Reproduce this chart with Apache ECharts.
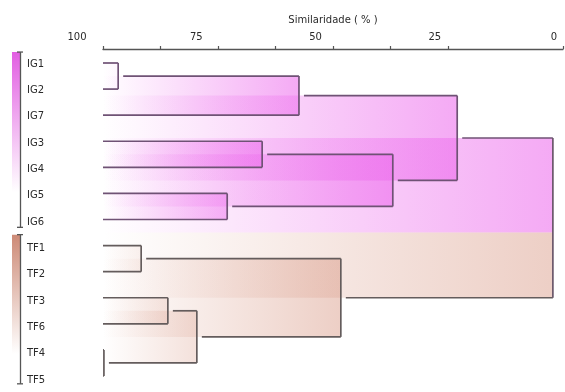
<!DOCTYPE html>
<html><head><meta charset="utf-8">
<script src="https://cdn.jsdelivr.net/npm/echarts@6/dist/echarts.min.js"></script>
<style>html,body{margin:0;padding:0;background:#fff}#c{width:565px;height:392px}</style>
</head><body><div id="c"></div>
<script>
// ---- data ----
const leaves = ['IG1','IG2','IG7','IG3','IG4','IG5','IG6','TF1','TF2','TF3','TF6','TF4','TF5'];
const leafGroup = ['IG','IG','IG','IG','IG','IG','IG','TF','TF','TF','TF','TF','TF'];
// merge i joins mergeLeft[i] and mergeRight[i] at mergeSimilarity[i] (%); 'Mk' refers to merge k
const mergeLeft  = ['IG1','M0','IG3','IG5','M2','M1','TF1','TF3','TF4','M7','M6','M5'];
const mergeRight = ['IG2','IG7','IG4','IG6','M3','M4','TF2','TF6','TF5','M8','M9','M10'];
const mergeSimilarity = [96.7, 57.4, 65.4, 73.0, 37.0, 23.0, 91.7, 85.9, 99.8, 79.6, 48.3, 2.2];
const tickValues = [100, 87.5, 75, 62.5, 50, 37.5, 25, 0];
const tickLabels = [100, 75, 50, 25, 0];
const axisTitle = 'Similaridade ( % )';
const groupNames = ['IG','TF'];

// ---- styles ----
const groupRGB = {IG:[236,100,236], TF:[212,140,118]};
const groupAlpha = {IG:0.55, TF:0.42};
const barRGB = {IG:[226,95,226], TF:[205,138,118]};
const lineColor = {IG:'#6f5275', TF:'#645c5c', mix:'#6a586a'};
const font = 'DejaVu Sans';

// ---- build tree ----
const nodes = {};
leaves.forEach((n,i)=>{ nodes[n] = {sim:100, y:i, group:leafGroup[i], leaf:true}; });
mergeLeft.forEach((a,i)=>{
  const A = nodes[a], B = nodes[mergeRight[i]];
  nodes['M'+i] = {sim:mergeSimilarity[i], y:(A.y+B.y)/2, group:A.group===B.group?A.group:'mix', a:a, b:mergeRight[i], leaf:false};
});
let boundary = 0;
for (let i=1;i<leafGroup.length;i++) if (leafGroup[i]!==leafGroup[i-1]) boundary = i-0.5;

function rgba(c,a){return 'rgba('+c[0]+','+c[1]+','+c[2]+','+a+')';}
function hGrad(g, f){
  const c = groupRGB[g], a = groupAlpha[g]*f;
  return new echarts.graphic.LinearGradient(0,0,1,0,[{offset:0,color:rgba(c,0)},{offset:1,color:rgba(c,a)}]);
}

const mergeData = mergeSimilarity.map((s,i)=>[s, nodes['M'+i].y, i]);

function renderFill(params, api){
  const n = nodes['M'+api.value(2)];
  const A = nodes[n.a], B = nodes[n.b];
  const x0 = api.coord([100,0])[0], x1 = api.coord([n.sim,0])[0];
  const w = x1 - x0;
  const f = Math.min(1, w/150);
  const yA = api.coord([0,A.y])[1], yB = api.coord([0,B.y])[1];
  const children = [];
  if (n.group==='mix'){
    const yb = api.coord([0,boundary])[1];
    children.push({type:'rect', shape:{x:x0,y:yA,width:w,height:yb-yA}, style:{fill:hGrad(A.group,f)}});
    children.push({type:'rect', shape:{x:x0,y:yb,width:w,height:yB-yb}, style:{fill:hGrad(B.group,f)}});
  } else {
    children.push({type:'rect', shape:{x:x0,y:yA,width:w,height:yB-yA}, style:{fill:hGrad(n.group,f)}});
  }
  return {type:'group', children:children};
}

function renderLinks(params, api){
  const n = nodes['M'+api.value(2)];
  const x = api.coord([n.sim,0])[0];
  const children = [];
  [n.a, n.b].forEach(cn=>{
    const C = nodes[cn];
    const cx = api.coord([C.sim,0])[0] + (C.leaf?0:5);
    const cy = api.coord([0,C.y])[1];
    children.push({type:'line', shape:{x1:cx,y1:cy,x2:x,y2:cy}, style:{stroke:lineColor[C.group], lineWidth:1.7}});
  });
  const yA = api.coord([0,nodes[n.a].y])[1], yB = api.coord([0,nodes[n.b].y])[1];
  children.push({type:'line', shape:{x1:x,y1:yA,x2:x,y2:yB}, style:{stroke:lineColor[n.group], lineWidth:1.7}});
  return {type:'group', children:children};
}

const groupData = groupNames.map((g,k)=>{
  const idx = leafGroup.map((v,i)=>v===g?i:-1).filter(i=>i>=0);
  return [100, Math.min(...idx), Math.max(...idx), k];
});
function renderGroupBar(params, api){
  const g = groupNames[api.value(3)];
  const top = api.coord([0, api.value(1)-0.42])[1];
  const bot = api.coord([0, api.value(2)+0.3])[1];
  const c = barRGB[g];
  return {type:'group', children:[
    {type:'rect', shape:{x:12,y:top,width:8,height:bot-top},
     style:{fill:new echarts.graphic.LinearGradient(0,0,0,1,[{offset:0,color:rgba(c,1)},{offset:0.8,color:rgba(c,0)}])}},
    {type:'line', shape:{x1:20.5,y1:top,x2:20.5,y2:bot}, style:{stroke:'#555',lineWidth:1.3}},
    {type:'line', shape:{x1:17,y1:top,x2:23,y2:top}, style:{stroke:'#555',lineWidth:1.3}},
    {type:'line', shape:{x1:17,y1:bot,x2:23,y2:bot}, style:{stroke:'#555',lineWidth:1.3}}
  ]};
}

const chart = echarts.init(document.getElementById('c'), null, {renderer:'canvas'});
chart.setOption({
  backgroundColor:'#fff',
  animation:false,
  grid:[
    {left:103, right:2, top:63, bottom:16, outerBoundsMode:'none'},
    {left:77, right:11, top:63, bottom:16, outerBoundsMode:'none'},
    {left:0, width:21, top:64, bottom:12, outerBoundsMode:'none'}
  ],
  xAxis:[
    {type:'value', gridIndex:0, min:0, max:100, inverse:true, position:'top', offset:14,
     axisLine:{show:true, onZero:false, lineStyle:{color:'#555', width:1.4}},
     axisTick:{show:true, customValues:tickValues, length:3, lineStyle:{color:'#555', width:1.2}},
     axisLabel:{show:false}, splitLine:{show:false},
     name:axisTitle, nameLocation:'middle', nameGap:24,
     nameTextStyle:{fontSize:10, fontFamily:font, color:'#2a2a2a'}},
    {type:'value', gridIndex:1, min:0, max:100, inverse:true, position:'top', offset:14,
     axisLine:{show:false}, axisTick:{show:false}, splitLine:{show:false},
     axisLabel:{show:true, customValues:tickLabels, margin:7, fontSize:10, fontFamily:font, color:'#2a2a2a'}},
    {type:'value', gridIndex:2, show:false}
  ],
  yAxis:[
    {type:'value', gridIndex:0, min:0, max:leaves.length-1, inverse:true, show:false},
    {type:'value', gridIndex:1, show:false},
    {type:'category', gridIndex:2, data:leaves, inverse:true, boundaryGap:false, position:'right',
     axisLine:{show:false}, axisTick:{show:false}, splitLine:{show:false},
     axisLabel:{margin:6, align:'left', fontSize:10, fontFamily:font, color:'#2a2a2a'}}
  ],
  series:[
    {type:'custom', xAxisIndex:0, yAxisIndex:0, data:mergeData, encode:{x:0,y:1}, renderItem:renderFill, clip:false, z:1, silent:true},
    {type:'custom', xAxisIndex:0, yAxisIndex:0, data:mergeData, encode:{x:0,y:1}, renderItem:renderLinks, clip:false, z:3, silent:true},
    {type:'custom', xAxisIndex:0, yAxisIndex:0, data:groupData, encode:{x:0,y:1}, renderItem:renderGroupBar, clip:false, z:2, silent:true}
  ]
});
</script></body></html>
